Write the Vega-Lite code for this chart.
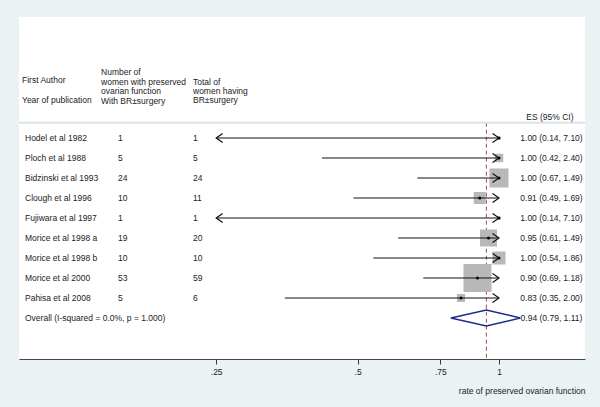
{
  "$schema": "https://vega.github.io/schema/vega-lite/v6.json",
  "width": 566,
  "height": 342,
  "autosize": {"type": "none"},
  "padding": {"left": 19, "top": 17, "right": 15, "bottom": 48},
  "background": "#EAF2F3",
  "config": {
    "view": {"fill": "white", "stroke": null},
    "font": "Liberation Sans",
    "text": {"font": "Liberation Sans", "fontSize": 8.5, "color": "#222"}
  },
  "datasets": {
    "studies": [
      {"author": "Hodel et al 1982", "n": "1", "total": "1", "es": 1.00, "lo": 0.14, "hi": 7.10, "ci": "1.00 (0.14, 7.10)", "weight": 0.5, "pos": 1},
      {"author": "Ploch  et al 1988", "n": "5", "total": "5", "es": 1.00, "lo": 0.42, "hi": 2.40, "ci": "1.00 (0.42, 2.40)", "weight": 3.8, "pos": 2},
      {"author": "Bidzinski et al  1993", "n": "24", "total": "24", "es": 1.00, "lo": 0.67, "hi": 1.49, "ci": "1.00 (0.67, 1.49)", "weight": 19.0, "pos": 3},
      {"author": "Clough et al 1996", "n": "10", "total": "11", "es": 0.91, "lo": 0.49, "hi": 1.69, "ci": "0.91 (0.49, 1.69)", "weight": 7.6, "pos": 4},
      {"author": "Fujiwara et al 1997", "n": "1", "total": "1", "es": 1.00, "lo": 0.14, "hi": 7.10, "ci": "1.00 (0.14, 7.10)", "weight": 0.5, "pos": 5},
      {"author": "Morice et al  1998 a", "n": "19", "total": "20", "es": 0.95, "lo": 0.61, "hi": 1.49, "ci": "0.95 (0.61, 1.49)", "weight": 15.2, "pos": 6},
      {"author": "Morice  et al 1998 b", "n": "10", "total": "10", "es": 1.00, "lo": 0.54, "hi": 1.86, "ci": "1.00 (0.54, 1.86)", "weight": 8.9, "pos": 7},
      {"author": "Morice et al  2000", "n": "53", "total": "59", "es": 0.90, "lo": 0.69, "hi": 1.18, "ci": "0.90 (0.69, 1.18)", "weight": 41.2, "pos": 8},
      {"author": "Pahisa et al 2008", "n": "5", "total": "6", "es": 0.83, "lo": 0.35, "hi": 2.00, "ci": "0.83 (0.35, 2.00)", "weight": 3.4, "pos": 9}
    ],
    "overall": [
      {"author": "Overall  (I-squared = 0.0%, p = 1.000)", "es": 0.94, "lo": 0.79, "hi": 1.11, "ci": "0.94 (0.79, 1.11)", "pos": 10}
    ],
    "diamond": [
      {"x": 0.79, "top": 10, "bottom": 10},
      {"x": 0.94, "top": 9.6, "bottom": 10.4},
      {"x": 1.11, "top": 10, "bottom": 10}
    ],
    "headers": [
      {"author": "First Author\nYear of publication", "n": "Number of\nwomen with preserved\novarian function\nWith BR±surgery", "total": "Total of\nwomen having\nBR±surgery", "es": "ES (95% CI)"}
    ]
  },
  "resolve": {"scale": {"x": "independent"}},
  "layer": [
    {
      "layer": [
        {
          "data": {"name": "overall"},
          "mark": {"type": "rule", "color": "#B04848", "strokeWidth": 1, "strokeDash": [4, 3]},
          "encoding": {
            "x": {"field": "es", "type": "quantitative",
              "scale": {"type": "log", "domain": [0.0951, 1.5244], "nice": false},
              "axis": {"orient": "bottom", "values": [0.25, 0.5, 0.75, 1],
                "labelExpr": "datum.value >= 1 ? '1' : replace(format(datum.value, '~g'), '0.', '.')",
                "grid": false, "tickSize": 5, "tickColor": "#333", "domainColor": "#444", "domainWidth": 1,
                "labelFont": "Liberation Sans", "labelFontSize": 8.5, "labelColor": "#222", "labelPadding": 3, "labelFlush": false,
                "title": "rate of preserved ovarian function", "titleFont": "Liberation Sans", "titleFontSize": 8.5,
                "titleFontWeight": "normal", "titleColor": "#222", "titleAnchor": "end", "titlePadding": 11}},
            "y": {"datum": 0.235, "type": "quantitative", "scale": {"domain": [-5.05, 12.05], "reverse": true, "nice": false, "zero": false}, "axis": null},
            "y2": {"datum": 12.05}
          }
        },
        {
          "data": {"name": "studies"},
          "mark": {"type": "square", "filled": true, "color": "#B8B8B8", "opacity": 1},
          "encoding": {
            "x": {"field": "es", "type": "quantitative"},
            "y": {"field": "pos", "type": "quantitative", "scale": {"domain": [-5.05, 12.05], "reverse": true, "nice": false, "zero": false}, "axis": null},
            "size": {"field": "weight", "type": "quantitative", "scale": {"domain": [0, 100], "range": [0, 1903]}, "legend": null}
          }
        },
        {
          "data": {"name": "diamond"},
          "mark": {"type": "area", "fill": "transparent", "stroke": "#1C2B8E", "strokeWidth": 1.5},
          "encoding": {
            "x": {"field": "x", "type": "quantitative"},
            "y": {"field": "top", "type": "quantitative", "scale": {"domain": [-5.05, 12.05], "reverse": true, "nice": false, "zero": false}, "axis": null},
            "y2": {"field": "bottom"}
          }
        }
      ]
    },
    {
      "layer": [
        {
          "data": {"name": "studies"},
          "mark": {"type": "rule", "color": "#111", "strokeWidth": 1},
          "encoding": {
            "x": {"field": "lo", "type": "quantitative",
              "scale": {"type": "log", "domain": [0.25, 1], "range": [197.2, 480], "clamp": true, "nice": false}, "axis": null},
            "x2": {"field": "hi"},
            "y": {"field": "pos", "type": "quantitative", "scale": {"domain": [-5.05, 12.05], "reverse": true, "nice": false, "zero": false}, "axis": null}
          }
        },
        {
          "data": {"name": "studies"},
          "transform": [{"filter": "datum.hi > 1"}],
          "mark": {"type": "point", "shape": "M-1.4,-1L0,0L-1.4,1", "filled": false, "stroke": "#111", "strokeWidth": 1.2, "size": 85, "opacity": 1},
          "encoding": {
            "x": {"field": "hi", "type": "quantitative"},
            "y": {"field": "pos", "type": "quantitative", "scale": {"domain": [-5.05, 12.05], "reverse": true, "nice": false, "zero": false}, "axis": null}
          }
        },
        {
          "data": {"name": "studies"},
          "transform": [{"filter": "datum.lo < 0.25"}],
          "mark": {"type": "point", "shape": "M1.4,-1L0,0L1.4,1", "filled": false, "stroke": "#111", "strokeWidth": 1.2, "size": 85, "opacity": 1},
          "encoding": {
            "x": {"field": "lo", "type": "quantitative"},
            "y": {"field": "pos", "type": "quantitative", "scale": {"domain": [-5.05, 12.05], "reverse": true, "nice": false, "zero": false}, "axis": null}
          }
        },
        {
          "data": {"name": "studies"},
          "mark": {"type": "circle", "color": "#000", "size": 9, "opacity": 1},
          "encoding": {
            "x": {"field": "es", "type": "quantitative"},
            "y": {"field": "pos", "type": "quantitative", "scale": {"domain": [-5.05, 12.05], "reverse": true, "nice": false, "zero": false}, "axis": null}
          }
        }
      ]
    },
    {
      "layer": [
        {
          "data": {"name": "headers"},
          "mark": {"type": "rule", "color": "#DCE3E7", "strokeWidth": 2},
          "encoding": {
            "y": {"datum": 0.235, "type": "quantitative", "scale": {"domain": [-5.05, 12.05], "reverse": true, "nice": false, "zero": false}, "axis": null}
          }
        },
        {
          "data": {"name": "studies"},
          "mark": {"type": "text", "align": "left", "baseline": "middle"},
          "encoding": {
            "x": {"datum": 1.06, "type": "quantitative", "scale": {"domain": [0, 100], "nice": false, "zero": false}, "axis": null},
            "y": {"field": "pos", "type": "quantitative", "scale": {"domain": [-5.05, 12.05], "reverse": true, "nice": false, "zero": false}, "axis": null},
            "text": {"field": "author"}
          }
        },
        {
          "data": {"name": "studies"},
          "mark": {"type": "text", "align": "left", "baseline": "middle"},
          "encoding": {
            "x": {"datum": 17.49, "type": "quantitative"},
            "y": {"field": "pos", "type": "quantitative", "scale": {"domain": [-5.05, 12.05], "reverse": true, "nice": false, "zero": false}, "axis": null},
            "text": {"field": "n"}
          }
        },
        {
          "data": {"name": "studies"},
          "mark": {"type": "text", "align": "left", "baseline": "middle"},
          "encoding": {
            "x": {"datum": 30.74, "type": "quantitative"},
            "y": {"field": "pos", "type": "quantitative", "scale": {"domain": [-5.05, 12.05], "reverse": true, "nice": false, "zero": false}, "axis": null},
            "text": {"field": "total"}
          }
        },
        {
          "data": {"name": "studies"},
          "mark": {"type": "text", "align": "center", "baseline": "middle"},
          "encoding": {
            "x": {"datum": 94.08, "type": "quantitative"},
            "y": {"field": "pos", "type": "quantitative", "scale": {"domain": [-5.05, 12.05], "reverse": true, "nice": false, "zero": false}, "axis": null},
            "text": {"field": "ci"}
          }
        },
        {
          "data": {"name": "overall"},
          "mark": {"type": "text", "align": "left", "baseline": "middle"},
          "encoding": {
            "x": {"datum": 1.06, "type": "quantitative"},
            "y": {"field": "pos", "type": "quantitative", "scale": {"domain": [-5.05, 12.05], "reverse": true, "nice": false, "zero": false}, "axis": null},
            "text": {"field": "author"}
          }
        },
        {
          "data": {"name": "overall"},
          "mark": {"type": "text", "align": "center", "baseline": "middle"},
          "encoding": {
            "x": {"datum": 94.08, "type": "quantitative"},
            "y": {"field": "pos", "type": "quantitative", "scale": {"domain": [-5.05, 12.05], "reverse": true, "nice": false, "zero": false}, "axis": null},
            "text": {"field": "ci"}
          }
        },
        {
          "data": {"name": "headers"},
          "mark": {"type": "text", "align": "left", "baseline": "alphabetic", "lineBreak": "\n", "lineHeight": 20},
          "encoding": {
            "x": {"datum": 0.53, "type": "quantitative"},
            "y": {"datum": -1.75, "type": "quantitative", "scale": {"domain": [-5.05, 12.05], "reverse": true, "nice": false, "zero": false}, "axis": null},
            "text": {"field": "author"}
          }
        },
        {
          "data": {"name": "headers"},
          "mark": {"type": "text", "align": "left", "baseline": "alphabetic", "lineBreak": "\n", "lineHeight": 9.5},
          "encoding": {
            "x": {"datum": 14.49, "type": "quantitative"},
            "y": {"datum": -2.15, "type": "quantitative", "scale": {"domain": [-5.05, 12.05], "reverse": true, "nice": false, "zero": false}, "axis": null},
            "text": {"field": "n"}
          }
        },
        {
          "data": {"name": "headers"},
          "mark": {"type": "text", "align": "left", "baseline": "alphabetic", "lineBreak": "\n", "lineHeight": 9},
          "encoding": {
            "x": {"datum": 30.74, "type": "quantitative"},
            "y": {"datum": -1.65, "type": "quantitative", "scale": {"domain": [-5.05, 12.05], "reverse": true, "nice": false, "zero": false}, "axis": null},
            "text": {"field": "total"}
          }
        },
        {
          "data": {"name": "headers"},
          "mark": {"type": "text", "align": "center", "baseline": "middle"},
          "encoding": {
            "x": {"datum": 93.8, "type": "quantitative"},
            "y": {"datum": -0.05, "type": "quantitative", "scale": {"domain": [-5.05, 12.05], "reverse": true, "nice": false, "zero": false}, "axis": null},
            "text": {"field": "es"}
          }
        }
      ]
    }
  ]
}
